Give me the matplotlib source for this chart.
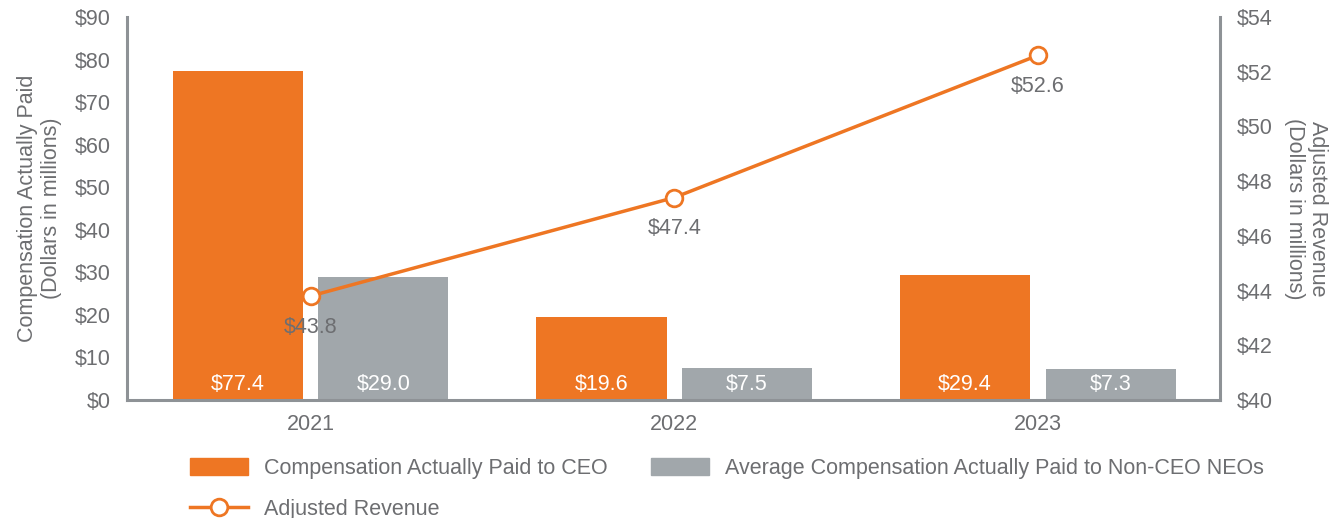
import matplotlib
matplotlib.use("Agg")
import matplotlib.pyplot as plt
from matplotlib.lines import Line2D
from matplotlib.patches import Patch
import numpy as np

years = ["2021", "2022", "2023"]
ceo_cap = [77.4, 19.6, 29.4]
neo_cap = [29.0, 7.5, 7.3]
adj_revenue = [43.8, 47.4, 52.6]
left_ticks = [0, 10, 20, 30, 40, 50, 60, 70, 80, 90]
right_ticks = [40, 42, 44, 46, 48, 50, 52, 54]

ORANGE = "#EE7623"
GRAY = "#A1A7AB"
TEXT = "#6D6E71"
SPINE = "#8E9296"
FS = 15.5

plt.rcParams["font.family"] = ["Liberation Sans", "DejaVu Sans"]

fig = plt.figure(figsize=(13.33, 5.18), dpi=100)
ax = fig.add_axes([0.0953, 0.228, 0.8197, 0.739])
ax2 = ax.twinx()

x = np.arange(len(years))
w = 0.358
off = 0.2

ax.bar(x - off, ceo_cap, w, color=ORANGE, zorder=2)
ax.bar(x + off, neo_cap, w, color=GRAY, zorder=2)

for xi, v in zip(x - off, ceo_cap):
    ax.text(xi, 1.2, f"${v:.1f}", ha="center", va="bottom", color="white", fontsize=FS)
for xi, v in zip(x + off, neo_cap):
    ax.text(xi, 1.2, f"${v:.1f}", ha="center", va="bottom", color="white", fontsize=FS)

ax.set_ylim(0, 90)
ax.set_yticks(left_ticks)
ax.set_yticklabels([f"${t}" for t in left_ticks])
ax.set_xlim(-0.505, 2.5)
ax.set_xticks(x)
ax.set_xticklabels(years)

ax2.set_ylim(40, 54)
ax2.set_yticks(right_ticks)
ax2.set_yticklabels([f"${t}" for t in right_ticks])

ax2.plot(x, adj_revenue, color=ORANGE, lw=2.5, marker="o", ms=12,
         mfc="white", mec=ORANGE, mew=2, zorder=5)
for xi, v in zip(x, adj_revenue):
    ax2.annotate(f"${v:.1f}", (xi, v), xytext=(0, -15), textcoords="offset points",
                 ha="center", va="top", color=TEXT, fontsize=FS)

for a in (ax, ax2):
    a.spines["top"].set_visible(False)
    a.tick_params(length=0, colors=TEXT, labelsize=FS)
ax.spines["right"].set_visible(False)
ax2.spines["left"].set_visible(False)
ax2.spines["bottom"].set_visible(False)
for s, a in (("left", ax), ("bottom", ax), ("right", ax2)):
    a.spines[s].set_color(SPINE)
    a.spines[s].set_linewidth(2.2)

ax.tick_params(axis="y", pad=12)
ax.tick_params(axis="x", pad=10)
ax2.tick_params(axis="y", pad=12)

ax.set_ylabel("Compensation Actually Paid\n(Dollars in millions)", color=TEXT,
              fontsize=FS, labelpad=9, linespacing=1.2)
ax2.set_ylabel("Adjusted Revenue\n(Dollars in millions)", color=TEXT,
               fontsize=FS, rotation=270, labelpad=40, linespacing=1.1)

ceo_h = Patch(color=ORANGE, label="Compensation Actually Paid to CEO")
neo_h = Patch(color=GRAY, label="Average Compensation Actually Paid to Non-CEO NEOs")
rev_h = Line2D([], [], color=ORANGE, lw=2.5, marker="o", ms=12, mfc="white",
               mec=ORANGE, mew=2, label="Adjusted Revenue")
# columns fill top-down: first column holds CEO and revenue, second holds NEO
leg = fig.legend(handles=[ceo_h, rev_h, neo_h], loc="upper left",
                 bbox_to_anchor=(0.1425, 0.116), ncol=2, frameon=False,
                 fontsize=FS, handlelength=2.7, handleheight=0.85,
                 columnspacing=2.0, handletextpad=0.75, labelspacing=0.95,
                 borderaxespad=0, borderpad=0)
for t in leg.get_texts():
    t.set_color(TEXT)

fig.savefig("out.png", dpi=100)
